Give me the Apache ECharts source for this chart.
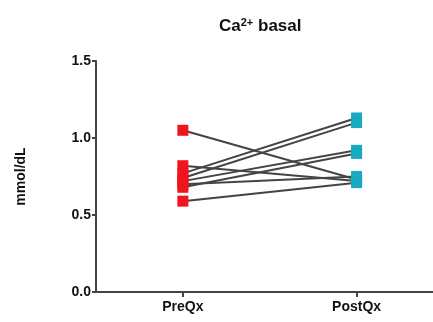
<!DOCTYPE html>
<html>
<head>
<meta charset="utf-8">
<script src="https://cdn.jsdelivr.net/npm/echarts@6/dist/echarts.min.js"></script>
<style>
    html, body { margin: 0; padding: 0; background: #fff; }
    #main { width: 433px; height: 322px; }
</style>
</head>
<body>
<div id="main"></div>
<script>
    // categories on the x axis
    var groups = ['PreQx', 'PostQx'];
    // paired values, one entry per subject
    var preValues  = [1.05, 0.82, 0.77, 0.74, 0.72, 0.70, 0.68, 0.59];
    var postValues = [0.73, 0.72, 1.13, 1.10, 0.92, 0.75, 0.90, 0.71];
    var yTicks = [0, 0.5, 1.0, 1.5];

    var lineColor = '#444';
    var preColor = '#f0141e';
    var postColor = '#19a9c2';

    var series = [];
    for (var i = 0; i < preValues.length; i++) {
        series.push({
            type: 'line',
            symbol: 'rect',
            symbolSize: 11,
            lineStyle: { color: lineColor, width: 2 },
            z: 2,
            data: [
                { value: [1, preValues[i]], itemStyle: { color: preColor } },
                { value: [2, postValues[i]], itemStyle: { color: postColor } }
            ]
        });
    }

    var myChart = echarts.init(document.getElementById('main'));
    var option = {
        animation: false,
        title: {
            text: '{a|Ca}{sup|2+}{a| basal}',
            left: 214,
            top: 12,
            textStyle: {
                rich: {
                    a: { fontFamily: 'Liberation Sans', fontWeight: 'bold', fontSize: 17, color: '#111' },
                    sup: { fontFamily: 'Liberation Sans', fontWeight: 'bold', fontSize: 11, color: '#111', verticalAlign: 'top', padding: [0, 0, 8, 0] }
                }
            }
        },
        grid: { left: 96, right: 0, top: 61, bottom: 30 },
        xAxis: {
            type: 'value',
            min: 0.5,
            max: 2.44,
            splitLine: { show: false },
            axisLine: { lineStyle: { color: lineColor, width: 2 } },
            axisTick: { show: true, customValues: [1, 2], length: 5, lineStyle: { color: lineColor, width: 2 } },
            axisLabel: {
                customValues: [1, 2],
                formatter: function (v) { return groups[v - 1]; },
                fontFamily: 'Liberation Sans',
                fontWeight: 'bold',
                fontSize: 14,
                color: '#111',
                margin: 8
            }
        },
        yAxis: {
            type: 'value',
            min: 0,
            max: 1.5,
            interval: 0.5,
            name: 'mmol/dL',
            nameLocation: 'middle',
            nameGap: 68,
            nameRotate: 90,
            nameTextStyle: { fontFamily: 'Liberation Sans', fontWeight: 'bold', fontSize: 14, color: '#111' },
            splitLine: { show: false },
            axisLine: { show: true, lineStyle: { color: lineColor, width: 2 } },
            axisTick: { show: true, length: 4, lineStyle: { color: lineColor, width: 2 } },
            axisLabel: {
                customValues: yTicks,
                formatter: function (v) { return v.toFixed(1); },
                fontFamily: 'Liberation Sans',
                fontWeight: 'bold',
                fontSize: 14,
                color: '#111',
                margin: 5
            }
        },
        series: series
    };
    myChart.setOption(option);
</script>
</body>
</html>
